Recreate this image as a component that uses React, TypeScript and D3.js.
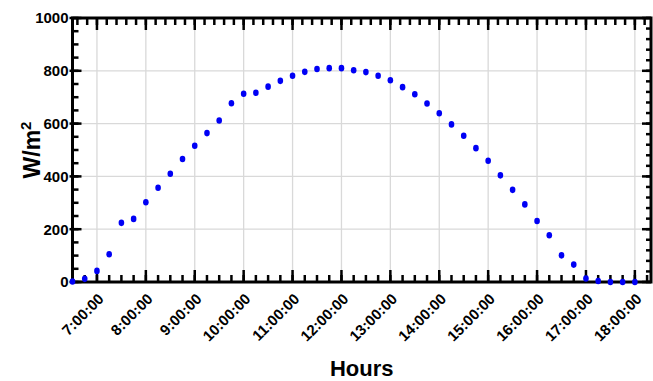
import React from "react";
import * as d3 from "d3";

const width = 653;
const height = 381;
const margin = { top: 18, right: 2, bottom: 99, left: 72.5 };

// sample times, every 15 min
const times = [
  "6:30", "6:45", "7:00", "7:15", "7:30", "7:45", "8:00", "8:15", "8:30", "8:45",
  "9:00", "9:15", "9:30", "9:45", "10:00", "10:15", "10:30", "10:45", "11:00", "11:15",
  "11:30", "11:45", "12:00", "12:15", "12:30", "12:45", "13:00", "13:15", "13:30", "13:45",
  "14:00", "14:15", "14:30", "14:45", "15:00", "15:15", "15:30", "15:45", "16:00", "16:15",
  "16:30", "16:45", "17:00", "17:15", "17:30", "17:45", "18:00",
];
const irradiance = [
  2, 12, 42, 105, 224, 239, 302, 357, 410, 466,
  516, 564, 612, 677, 713, 717, 740, 762, 781, 796,
  807, 810, 810, 802, 795, 781, 764, 738, 711, 676,
  639, 597, 554, 507, 459, 404, 349, 294, 231, 177,
  101, 66, 13, 4, 0, 0, 0,
];

const xTickHours = [7, 8, 9, 10, 11, 12, 13, 14, 15, 16, 17, 18];
const xTickLabels = [
  "7:00:00", "8:00:00", "9:00:00", "10:00:00", "11:00:00", "12:00:00",
  "13:00:00", "14:00:00", "15:00:00", "16:00:00", "17:00:00", "18:00:00",
];
const yTicks = [0, 200, 400, 600, 800, 1000];

const toHours = (t: string) => {
  const [h, m] = t.split(":").map(Number);
  return h + m / 60;
};

const font = "'Liberation Sans', Arial, sans-serif";
const narrow = "'Liberation Sans Narrow', 'Arial Narrow', 'Liberation Sans', sans-serif";

const App = () => {
  const x = d3
    .scaleLinear()
    .domain([6.5, 18.33])
    .range([margin.left, width - margin.right]);
  const y = d3
    .scaleLinear()
    .domain([0, 1000])
    .range([height - margin.bottom, margin.top]);

  const x0 = x.range()[0];
  const x1 = x.range()[1];
  const y0 = y.range()[0];
  const y1 = y.range()[1];

  // minor ticks differ per side (bottom 15 min, top 12 min, left 50, right 40)
  const bottomMinor = d3.range(6.5, 18.34, 0.25);
  const topMinor = d3.range(6.6, 18.34, 0.2);
  const leftMinor = d3.range(0, 1001, 50);
  const rightMinor = d3.range(0, 1001, 40);

  const ink = "#000";

  return (
    <svg
      width={width}
      height={height}
      style={{ position: "absolute", left: 0, top: 0, background: "#fff" }}
    >
      {/* grid */}
      <g stroke="#d9d9d9" strokeWidth={1.3}>
        {xTickHours.map((h) => (
          <line key={"gx" + h} x1={x(h)} x2={x(h)} y1={y1} y2={y0} />
        ))}
        {yTicks.slice(1, -1).map((v) => (
          <line key={"gy" + v} x1={x0} x2={x1} y1={y(v)} y2={y(v)} />
        ))}
      </g>

      {/* ticks */}
      <g stroke={ink} strokeWidth={2.5}>
        {bottomMinor.map((h, i) => (
          <line key={"bm" + i} x1={x(h)} x2={x(h)} y1={y0} y2={y0 - 7} />
        ))}
        {xTickHours.map((h) => (
          <line key={"bM" + h} x1={x(h)} x2={x(h)} y1={y0} y2={y0 - 12} />
        ))}
        {topMinor.map((h, i) => (
          <line key={"tm" + i} x1={x(h)} x2={x(h)} y1={y1} y2={y1 + 7} />
        ))}
        {xTickHours.map((h) => (
          <line key={"tM" + h} x1={x(h)} x2={x(h)} y1={y1} y2={y1 + 12} />
        ))}
        {leftMinor.map((v) => (
          <line key={"lm" + v} x1={x0} x2={x0 + 6} y1={y(v)} y2={y(v)} />
        ))}
        {yTicks.map((v) => (
          <line key={"lM" + v} x1={x0 - 3} x2={x0 + 9} y1={y(v)} y2={y(v)} />
        ))}
        {rightMinor.map((v) => (
          <line key={"rm" + v} x1={x1} x2={x1 - 5} y1={y(v)} y2={y(v)} />
        ))}
        {yTicks.map((v) => (
          <line key={"rM" + v} x1={x1} x2={x1 - 9} y1={y(v)} y2={y(v)} />
        ))}
      </g>

      {/* frame */}
      <rect
        x={x0}
        y={y1}
        width={x1 - x0}
        height={y0 - y1}
        fill="none"
        stroke={ink}
        strokeWidth={3}
      />

      {/* points */}
      <g fill="#0000f5">
        {times.map((t, i) => (
          <ellipse key={t} cx={x(toHours(t))} cy={y(irradiance[i])} rx={2.8} ry={3.3} />
        ))}
      </g>

      {/* y tick labels */}
      <g fontFamily={narrow} fontWeight="bold" fontSize={15} textAnchor="end">
        {yTicks.map((v) => (
          <text key={"yl" + v} x={x0 - 4} y={y(v)} dy="0.36em">
            {v}
          </text>
        ))}
      </g>

      {/* x tick labels */}
      <g fontFamily={narrow} fontWeight="bold" fontSize={15} textAnchor="end">
        {xTickHours.map((h, i) => (
          <text
            key={"xl" + h}
            transform={`translate(${x(h) + 4},${y0 + 14}) rotate(-45)`}
            dy="0.36em"
          >
            {xTickLabels[i]}
          </text>
        ))}
      </g>

      {/* axis titles */}
      <text
        x={(x0 + x1) / 2}
        y={376}
        textAnchor="middle"
        fontFamily={narrow}
        fontWeight="bold"
        fontSize={22}
      >
        Hours
      </text>
      <text
        transform={`translate(40,${(y0 + y1) / 2}) rotate(-90)`}
        textAnchor="middle"
        fontFamily={font}
        fontWeight="bold"
        fontSize={23}
      >
        W/m
        <tspan fontSize={15} dy={-9}>
          2
        </tspan>
      </text>
    </svg>
  );
};

export default App;
